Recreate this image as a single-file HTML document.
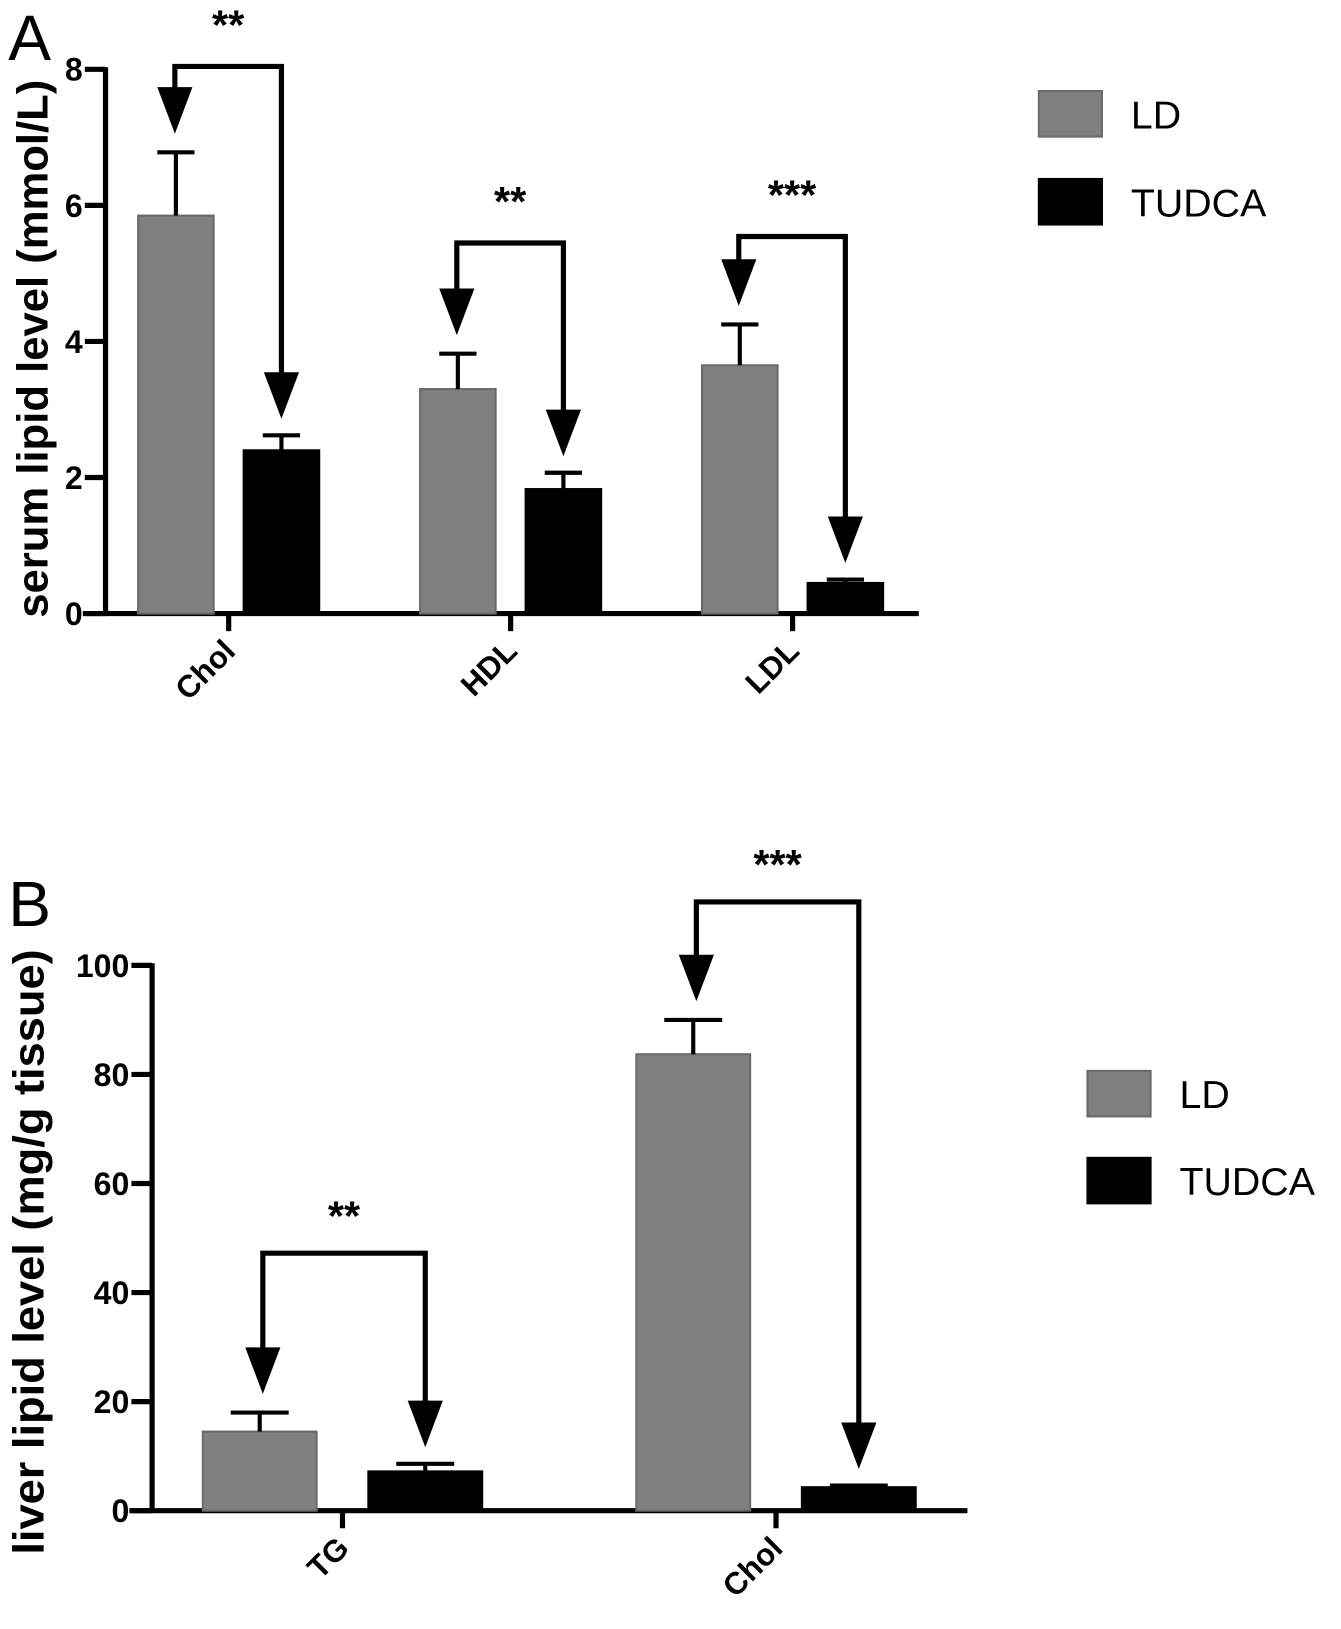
<!DOCTYPE html>
<html><head><meta charset="utf-8"><style>
body{margin:0;background:#fff;}
svg text{font-family:"Liberation Sans",Arial,sans-serif;}
</style></head><body>
<svg id="chart" width="1341" height="1624" viewBox="0 0 1341 1624" xmlns="http://www.w3.org/2000/svg">
<g transform="scale(1.0347)"><g id="A"></g><g id="B"></g></g>
</svg>
<script>
// Panel A data
const catsA=["Chol","HDL","LDL"];
const ldA=[5.85,3.3,3.65];
const ldErrA=[0.93,0.52,0.6];
const tuA=[2.4,1.83,0.45];
const tuErrA=[0.22,0.24,0.05];
const ticksA=[0,2,4,6,8];
const sigA=["**","**","***"];
// Panel B data
const catsB=["TG","Chol"];
const ldB=[14.5,83.7];
const ldErrB=[3.5,6.3];
const tuB=[7.2,4.3];
const tuErrB=[1.4,0.3];
const ticksB=[0,20,40,60,80,100];
const sigB=["**","***"];

const NS="http://www.w3.org/2000/svg";
function mk(parent,tag,attrs,txt){const e=document.createElementNS(NS,tag);for(const k in attrs)e.setAttribute(k,attrs[k]);if(txt!==undefined)e.textContent=txt;parent.appendChild(e);return e;}

function panel(g,cfg){
  const y=v=>cfg.y0-(v/cfg.max)*(cfg.y0-cfg.yTop);
  let e=mk(g,'line',{x1:cfg.ax,y1:cfg.yTop-2,x2:cfg.ax,y2:cfg.y0,stroke:'#000','stroke-width':5});
  
  e=mk(g,'line',{x1:cfg.ax-22,y1:cfg.y0,x2:cfg.axEnd,y2:cfg.y0,stroke:'#000','stroke-width':5});
  
  cfg.ticks.forEach(t=>{
    const l=mk(g,'line',{x1:cfg.ax-20,y1:y(t),x2:cfg.ax,y2:y(t),stroke:'#000','stroke-width':5});
    
    const tx=mk(g,'text',{x:cfg.ax-22,y:y(t)+11,'text-anchor':'end','font-size':31,'font-weight':'bold'},t);
    
  });
  const yt=mk(g,'text',{transform:`translate(${cfg.ytx},${cfg.ytc}) rotate(-90)`,'text-anchor':'middle','font-size':42,'font-weight':'bold',textLength:cfg.ytl,lengthAdjust:'spacingAndGlyphs'},cfg.ytitle);
  
  cfg.cats.forEach((c,i)=>{
    const cx=cfg.cx0+i*cfg.step;
    const tk=mk(g,'line',{x1:cx,y1:cfg.y0,x2:cx,y2:cfg.y0+17,stroke:'#000','stroke-width':5});
    
    const lb=mk(g,'text',{transform:`translate(${cx+8},${cfg.y0+38}) rotate(-45)`,'text-anchor':'end','font-size':30,'font-weight':'bold'},c);
    
    const xL=cx-cfg.off-cfg.bw/2, xT=cx+cfg.off-cfg.bw/2;
    [[xL,cfg.ld[i],cfg.ldE[i],'#808080','bar-ld'],[xT,cfg.tu[i],cfg.tuE[i],'#000','bar-tudca']].forEach(([x,v,er,col,nm])=>{
      const b=mk(g,'rect',{x:x,y:y(v),width:cfg.bw,height:cfg.y0-y(v),fill:col,stroke:col==='#000'?'#000':'#6a6a6a','stroke-width':2});
      
      const m=x+cfg.bw/2;
      const eb=mk(g,'path',{d:`M${m},${y(v)} V${y(v+er)} M${m-cfg.cap},${y(v+er)} H${m+cfg.cap}`,stroke:'#000','stroke-width':4,fill:'none'});
      
    });
    const lx=xL+cfg.bw/2+cfg.arrOff, rx=xT+cfg.bw/2;
    const by=y(cfg.ld[i]+cfg.ldE[i])-cfg.brH[i];
    const tl=y(cfg.ld[i]+cfg.ldE[i])-18, tr=y(cfg.tu[i]+cfg.tuE[i])-16;
    const br=mk(g,'path',{d:`M${lx},${tl-40} V${by} H${rx} V${tr-40}`,stroke:'#000','stroke-width':5,fill:'none'});
    
    [[lx,tl],[rx,tr]].forEach(([ax,ty])=>{
      const a=mk(g,'path',{d:`M${ax-17},${ty-45} L${ax+17},${ty-45} L${ax},${ty} Z`,fill:'#000'});
      
    });
    const s=mk(g,'text',{x:(lx+rx)/2,y:by-cfg.sOff,'text-anchor':'middle','font-size':40,'font-weight':'bold'},cfg.sig[i]);
    
  });
  [['LD','#808080'],['TUDCA','#000']].forEach(([n,col],k)=>{
    const yy=cfg.legY+k*cfg.legStep;
    const r=mk(g,'rect',{x:cfg.legX,y:yy,width:61,height:44,fill:col,stroke:col==='#000'?'#000':'#6a6a6a','stroke-width':2});
    
    const t=mk(g,'text',{x:cfg.legX+89,y:yy+36,'font-size':38},n);
    
  });
  const L=mk(g,'text',{x:cfg.letX,y:cfg.letY,'font-size':62},cfg.letter);
  
}
panel(document.getElementById('A'),{cats:catsA,ld:ldA,ldE:ldErrA,tu:tuA,tuE:tuErrA,ticks:ticksA,sig:sigA,max:8,
  y0:593,yTop:67,ax:102,axEnd:888,cx0:221,step:272.5,off:51,bw:73,cap:18,arrOff:-1,brH:[83,107,85],sOff:26,
  ytx:46,ytc:337,ytl:520,ytitle:'serum lipid level  (mmol/L)',legX:1004,legY:88,legStep:85,letX:8,letY:58,letter:'A'});
panel(document.getElementById('B'),{cats:catsB,ld:ldB,ldE:ldErrB,tu:tuB,tuE:tuErrB,ticks:ticksB,sig:sigB,max:100,
  y0:1460,yTop:933,ax:147,axEnd:935,cx0:331,step:419,off:80,bw:110,cap:28,arrOff:3,brH:[154,114],sOff:22,
  ytx:42,ytc:1210,ytl:585,ytitle:'liver lipid level  (mg/g tissue)',legX:1051,legY:1035,legStep:84,letX:8,letY:895,letter:'B'});
</script>
</body></html>
